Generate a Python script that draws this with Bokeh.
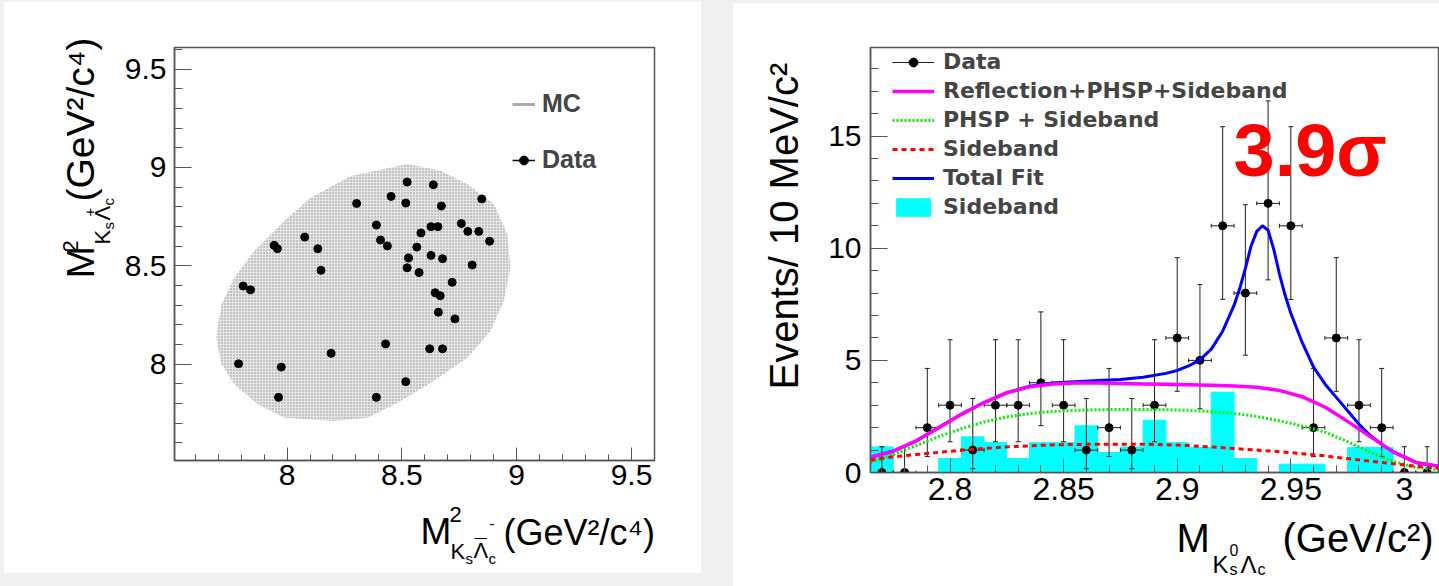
import math
from bokeh.plotting import figure
from bokeh.models import (Range1d, Label, Legend, LegendItem, SingleIntervalTicker,
                          CustomJSTickFormatter)
from bokeh.layouts import row, column
from bokeh.embed import file_html
from bokeh.resources import INLINE

FONT = "Liberation Sans"
LEG_FONT = "DejaVu Sans"
FRAME = "#555555"

# ---------------- left panel: M^2(Ks Lc+) vs M^2(Ks anti-Lc-) ----------------
data2d_x = [8.523, 8.637, 8.453, 8.303, 8.517, 8.672, 8.848, 8.389, 8.627, 8.657,
            8.759, 8.787, 8.835, 8.583, 8.882, 8.077, 8.407, 8.437, 8.565, 7.944,
            7.958, 8.134, 8.627, 8.529, 8.677, 8.523, 8.806, 8.148, 8.575, 8.719,
            7.809, 7.841, 8.645, 8.667, 8.659, 8.731, 8.429, 8.192, 8.621, 8.677,
            7.789, 7.975, 8.517, 7.963, 8.389]
data2d_y = [8.926, 8.912, 8.853, 8.817, 8.819, 8.804, 8.840, 8.707, 8.699, 8.699,
            8.715, 8.675, 8.675, 8.667, 8.625, 8.646, 8.631, 8.601, 8.595, 8.604,
            8.587, 8.587, 8.553, 8.540, 8.536, 8.490, 8.504, 8.477, 8.466, 8.416,
            8.397, 8.378, 8.363, 8.348, 8.264, 8.230, 8.103, 8.055, 8.078, 8.078,
            8.002, 7.985, 7.911, 7.831, 7.831]
# outline of the MC phase-space cloud
mc_edge_x = [8.525, 8.278, 8.105, 7.989, 7.858, 7.771, 7.714, 7.692, 7.714, 7.771,
             7.873, 7.989, 8.206, 8.351, 8.496, 8.640, 8.785, 8.886, 8.944, 8.973,
             8.959, 8.901, 8.785, 8.669]
mc_edge_y = [9.017, 8.957, 8.847, 8.729, 8.576, 8.440, 8.305, 8.135, 7.999, 7.898,
             7.796, 7.728, 7.711, 7.728, 7.813, 7.915, 8.033, 8.169, 8.322, 8.491,
             8.661, 8.813, 8.915, 8.983]

# ---------------- right panel: M(Ks0 Lc) fit ----------------
bin_center = [2.77, 2.78, 2.79, 2.80, 2.81, 2.82, 2.83, 2.84, 2.85, 2.86,
              2.87, 2.88, 2.89, 2.90, 2.91, 2.92, 2.93, 2.94, 2.95, 2.96,
              2.97, 2.98, 2.99, 3.00, 3.01]
counts = [0, 0, 2, 3, 1, 3, 3, 4, 3, 1,
          2, 1, 3, 6, 5, 11, 8, 12, 11, 2,
          6, 3, 2, 0, 0]
err_lo = [0, 0, 1.29, 1.63, 0.83, 1.63, 1.63, 1.91, 1.63, 0.83,
          1.29, 0.83, 1.63, 2.38, 2.16, 3.28, 2.77, 3.41, 3.28, 1.29,
          2.38, 1.63, 1.29, 0, 0]
err_hi = [1.15, 1.15, 2.64, 2.92, 2.30, 2.92, 2.92, 3.16, 2.92, 2.30,
          2.64, 2.30, 2.92, 3.58, 3.38, 4.42, 3.94, 4.57, 4.42, 2.64,
          3.58, 2.92, 2.64, 1.15, 1.15]
sideband_hist = [1.14, 0, 0, 0.62, 1.59, 1.33, 0.62, 1.33, 1.33, 2.08,
                 0.89, 1.14, 2.33, 1.33, 1.12, 3.58, 0.62, 0, 0.37, 0.37,
                 0, 1.12, 1.12, 0, 0]

bkg_x = [2.765, 2.775, 2.785, 2.795, 2.805, 2.815, 2.825, 2.835, 2.845, 2.855,
         2.865, 2.875, 2.885, 2.895, 2.905, 2.915, 2.925, 2.935, 2.945, 2.955,
         2.965, 2.975, 2.985, 2.995, 3.005, 3.015]
refl_phsp_sb = [0.68, 0.95, 1.4, 2.0, 2.6, 3.12, 3.55, 3.82, 3.95, 3.99,
                3.99, 3.97, 3.95, 3.93, 3.91, 3.89, 3.86, 3.8, 3.66, 3.38,
                2.92, 2.28, 1.6, 0.92, 0.45, 0.28]
phsp_sb = [0.45, 0.8, 1.2, 1.6, 1.95, 2.25, 2.48, 2.63, 2.72, 2.77,
           2.8, 2.81, 2.81, 2.8, 2.77, 2.72, 2.63, 2.5, 2.3, 2.08,
           1.8, 1.38, 0.9, 0.5, 0.22, 0.12]
sb_curve = [0.55, 0.7, 0.8, 0.9, 0.99, 1.07, 1.14, 1.19, 1.23, 1.25,
            1.26, 1.26, 1.26, 1.24, 1.2, 1.14, 1.07, 1.0, 0.93, 0.84,
            0.74, 0.62, 0.5, 0.39, 0.28, 0.19]

fit_x = [2.765, 2.775, 2.785, 2.795, 2.805, 2.815, 2.825, 2.835, 2.845, 2.855,
         2.865, 2.875, 2.885, 2.895, 2.9, 2.905, 2.91, 2.915, 2.92, 2.925,
         2.9275, 2.93, 2.9325, 2.935, 2.9375, 2.94, 2.9425, 2.945, 2.9475, 2.95,
         2.955, 2.96, 2.965, 2.97, 2.975, 2.98, 2.985, 2.99, 2.995, 3.005, 3.015]
total_fit = [0.68, 0.95, 1.4, 2.0, 2.6, 3.12, 3.56, 3.85, 3.99, 4.05,
             4.1, 4.15, 4.25, 4.42, 4.55, 4.75, 5.02, 5.5, 6.3, 7.45,
             8.2, 9.1, 10.1, 10.75, 11.0, 10.8, 9.95, 8.85, 7.9, 7.1,
             5.8, 4.7, 3.95, 3.35, 2.75, 2.15, 1.65, 1.26, 0.93, 0.45, 0.28]

# ---------------- geometry (page pixels) ----------------
X1, Y1 = (7.51, 9.60), (7.51, 9.61)
X2, Y2 = (2.765, 3.015), (0.0, 18.95)

# left block: page x 4..701, y 2..573
L_X0, L_Y0, L_W, L_H = 4, 2, 697, 571
L_YLAB_W = 114
M1_B = dict(left=56, right=47, top=45, bottom=39)
M1_H = 497
# right block: page x 733..1439, y 3..586
R_X0, R_Y0, R_W, R_H = 733, 3, 706, 583
R_YLAB_W = 73
M2_B = dict(left=64, right=1, top=44, bottom=42)
M2_H = 511

M1_W = L_W - L_YLAB_W
M2_W = R_W - R_YLAB_W
F1 = (L_X0 + L_YLAB_W + M1_B["left"], L_Y0 + M1_B["top"],
      M1_W - M1_B["left"] - M1_B["right"], M1_H - M1_B["top"] - M1_B["bottom"])
F2 = (R_X0 + R_YLAB_W + M2_B["left"], R_Y0 + M2_B["top"],
      M2_W - M2_B["left"] - M2_B["right"], M2_H - M2_B["top"] - M2_B["bottom"])


def mapper(frame, xr, yr):
    fl, ft, fw, fh = frame

    def f(px, py):
        return (xr[0] + (px - fl) / fw * (xr[1] - xr[0]),
                yr[1] - (py - ft) / fh * (yr[1] - yr[0]))
    return f


m2 = mapper(F2, X2, Y2)

MID = 0.3465  # alphabetic baseline -> middle of em box, in em


def make_fig(w, h, xr, yr, border):
    p = figure(width=w, height=h, x_range=Range1d(*xr), y_range=Range1d(*yr),
               output_backend="svg", toolbar_location=None, title=None,
               min_border_left=border["left"], min_border_right=border["right"],
               min_border_top=border["top"], min_border_bottom=border["bottom"])
    p.background_fill_color = "white"
    p.border_fill_color = "white"
    p.outline_line_color = FRAME
    p.outline_line_width = 1.5
    p.xgrid.visible = False
    p.ygrid.visible = False
    return p


def text_fig(x0, y0, w, h, bl=0, br=0):
    """Blank white canvas whose data coordinates are page pixels (for axis titles)."""
    p = figure(width=w, height=h, x_range=Range1d(x0 + bl, x0 + w - br),
               y_range=Range1d(y0 + h, y0),
               output_backend="svg", toolbar_location=None, title=None,
               x_axis_type=None, y_axis_type=None,
               min_border_left=bl, min_border_right=br, min_border_top=0, min_border_bottom=0)
    p.background_fill_color = "white"
    p.border_fill_color = "white"
    p.outline_line_color = None
    p.xgrid.visible = False
    p.ygrid.visible = False
    return p


def put(p, x, y_base, text, size, bold=False, color="black", vertical=False):
    # (x, y_base): start of the text on its alphabetic baseline, page pixels
    if vertical:
        lx, ly, ang = x - MID * size, y_base, math.pi / 2
    else:
        lx, ly, ang = x, y_base - MID * size, 0.0
    p.add_layout(Label(x=lx, y=ly, text=text, text_font=FONT, text_font_size=f"{size}px",
                       text_font_style="bold" if bold else "normal", text_color=color,
                       text_align="left", text_baseline="middle", angle=ang))


fmt = CustomJSTickFormatter(code="return (+tick.toFixed(4)).toString();")


def style_axis(ax, size, standoff, major_in, minor_in, interval):
    ax.ticker = SingleIntervalTicker(interval=interval, num_minor_ticks=5)
    ax.formatter = fmt
    ax.axis_line_color = FRAME
    ax.axis_line_width = 1.5
    ax.major_tick_line_color = FRAME
    ax.minor_tick_line_color = FRAME
    ax.major_tick_out = 0
    ax.minor_tick_out = 0
    ax.major_tick_in = major_in
    ax.minor_tick_in = minor_in
    ax.major_label_text_font = FONT
    ax.major_label_text_font_size = size
    ax.major_label_text_color = "black"
    ax.major_label_standoff = standoff


# ================= left block =================
p1 = make_fig(M1_W, M1_H, X1, Y1, M1_B)
style_axis(p1.xaxis[0], "30px", 4, 13, 6, 0.5)
style_axis(p1.yaxis[0], "30px", 8, 17, 8, 0.5)

p1.patch(mc_edge_x, mc_edge_y, fill_color="#e6e6e6", line_color=None,
         hatch_pattern="dot", hatch_color="#8a8a8a", hatch_scale=3, hatch_weight=1.0)
dots1 = p1.scatter(data2d_x, data2d_y, size=8, color="black")
mc_leg = p1.line([float("nan")], [float("nan")], line_color="#aaaaaa", line_width=3)
data_leg = p1.line([float("nan")], [float("nan")], line_color="black", line_width=1.5)

leg1 = Legend(items=[LegendItem(label="MC", renderers=[mc_leg]),
                     LegendItem(label="Data", renderers=[data_leg, dots1])],
              location=(338, 286), glyph_width=23, glyph_height=22, label_height=29,
              spacing=27, padding=0, margin=0, label_standoff=7,
              label_text_font=FONT, label_text_font_style="bold",
              label_text_font_size="25px", label_text_baseline="middle",
              border_line_alpha=0, background_fill_alpha=0)
p1.add_layout(leg1)

ylab1 = text_fig(L_X0, L_Y0, L_YLAB_W, L_H)
xlab1 = text_fig(L_X0 + L_YLAB_W, L_Y0 + M1_H, M1_W, L_H - M1_H,
                 bl=M1_B["left"], br=M1_B["right"])

# x-axis title:  M^2_{Ks anti-Lambda_c^-} (GeV^2/c^4)
B = 544
put(xlab1, 420, B, "M", 37)
put(xlab1, 449, B - 22, "2", 22)
put(xlab1, 450, B + 15, "K", 22)
put(xlab1, 465, B + 19, "s", 15)
put(xlab1, 473, B + 14, "Λ", 22)
put(xlab1, 474, B + 11, "¯", 22)
put(xlab1, 488, B + 19, "c", 15)
put(xlab1, 489, B - 15, "-", 15)
put(xlab1, 503, B, "(GeV²/c⁴)", 36)

# y-axis title (reads upward): M^2_{Ks Lambda_c^+} (GeV^2/c^4)
B = 94
put(ylab1, B, 278, "M", 39, vertical=True)
put(ylab1, B - 16, 252, "2", 22, vertical=True)
put(ylab1, B + 16, 244, "K", 22, vertical=True)
put(ylab1, B + 19, 229, "s", 15, vertical=True)
put(ylab1, B + 16, 220, "Λ", 22, vertical=True)
put(ylab1, B + 19, 205, "c", 15, vertical=True)
put(ylab1, B + 1, 216, "+", 15, vertical=True)
put(ylab1, B, 201, "(GeV²/c⁴)", 39, vertical=True)

# ================= right block =================
p2 = make_fig(M2_W, M2_H, X2, Y2, M2_B)
style_axis(p2.xaxis[0], "32px", 5, 14, 7, 0.05)
style_axis(p2.yaxis[0], "30px", 9, 17, 8, 5)

half = (bin_center[1] - bin_center[0]) / 2.0
px_x = (X2[1] - X2[0]) / F2[2]     # data units per pixel
px_y = (Y2[1] - Y2[0]) / F2[3]
cap_w = 2.5 * px_x
cap_h = 2.0 * px_y

hist = p2.quad(left=[c - half for c in bin_center], right=[c + half for c in bin_center],
               bottom=0, top=sideband_hist, fill_color="#00ffff", line_color="#00ffff")

ylo = [c - e for c, e in zip(counts, err_lo)]
yhi = [c + e for c, e in zip(counts, err_hi)]
ebar = "#1e1e1e"
p2.segment(bin_center, ylo, bin_center, yhi, line_color=ebar, line_width=1)
p2.segment([c - cap_w for c in bin_center], yhi, [c + cap_w for c in bin_center], yhi,
           line_color=ebar, line_width=1)
p2.segment([c - cap_w for c in bin_center], ylo, [c + cap_w for c in bin_center], ylo,
           line_color=ebar, line_width=1)
hbar = p2.segment([c - half for c in bin_center], counts, [c + half for c in bin_center], counts,
                  line_color=ebar, line_width=1)
p2.segment([c - half for c in bin_center], [v - cap_h for v in counts],
           [c - half for c in bin_center], [v + cap_h for v in counts], line_color=ebar, line_width=1)
p2.segment([c + half for c in bin_center], [v - cap_h for v in counts],
           [c + half for c in bin_center], [v + cap_h for v in counts], line_color=ebar, line_width=1)
dots2 = p2.scatter(bin_center, counts, size=8, color="black")

l_tot = p2.line(fit_x, total_fit, line_color="#0000ff", line_width=3)
l_ref = p2.line(bkg_x, refl_phsp_sb, line_color="#ff00ff", line_width=3.5)
l_phs = p2.line(bkg_x, phsp_sb, line_color="#00f000", line_width=3, line_dash="2 2")
l_sb = p2.line(bkg_x, sb_curve, line_color="#ff0000", line_width=3, line_dash="5 4")

leg2 = Legend(items=[LegendItem(label="Data", renderers=[hbar, dots2]),
                     LegendItem(label="Reflection+PHSP+Sideband", renderers=[l_ref]),
                     LegendItem(label="PHSP + Sideband", renderers=[l_phs]),
                     LegendItem(label="Sideband", renderers=[l_sb]),
                     LegendItem(label="Total Fit", renderers=[l_tot]),
                     LegendItem(label="Sideband", renderers=[hist])],
              location=(22, 251), glyph_width=42, glyph_height=22, label_height=29,
              spacing=0, padding=0, margin=0, label_standoff=9,
              label_text_font=LEG_FONT, label_text_font_style="bold",
              label_text_font_size="22px", label_text_baseline="middle",
              border_line_alpha=0, background_fill_alpha=0)
p2.add_layout(leg2)

sx, sy = m2(1233, 176 - MID * 74)
p2.add_layout(Label(x=sx, y=sy, text="3.9σ", text_font=FONT, text_font_size="74px",
                    text_font_style="bold", text_color="#ff0000",
                    text_align="left", text_baseline="middle"))

ylab2 = text_fig(R_X0, R_Y0, R_YLAB_W, R_H)
xlab2 = text_fig(R_X0 + R_YLAB_W, R_Y0 + M2_H, M2_W, R_H - M2_H,
                 bl=M2_B["left"], br=M2_B["right"])

put(ylab2, 797, 389, "Events/ 10 MeV/c²", 40, vertical=True)

B = 551
put(xlab2, 1176, B, "M", 40)
put(xlab2, 1212, B + 21, "K", 24)
put(xlab2, 1229, B + 4, "0", 16)
put(xlab2, 1229, B + 24, "s", 16)
put(xlab2, 1240, B + 21, "Λ", 24)
put(xlab2, 1257, B + 24, "c", 16)
put(xlab2, 1282, B, "(GeV/c²)", 40)

WHITE = {"background-color": "white"}
left_block = row(ylab1, column(p1, xlab1, spacing=0, styles=WHITE), spacing=0, styles=WHITE)
right_block = row(ylab2, column(p2, xlab2, spacing=0, styles=WHITE), spacing=0, styles=WHITE)
left_block.margin = (L_Y0, 0, 0, L_X0)
right_block.margin = (R_Y0, 0, 0, 0)
layout = row(left_block, right_block, spacing=R_X0 - L_X0 - L_W,
             styles={"background-color": "#efefef"})

open("out.html", "w").write(file_html(layout, INLINE))
